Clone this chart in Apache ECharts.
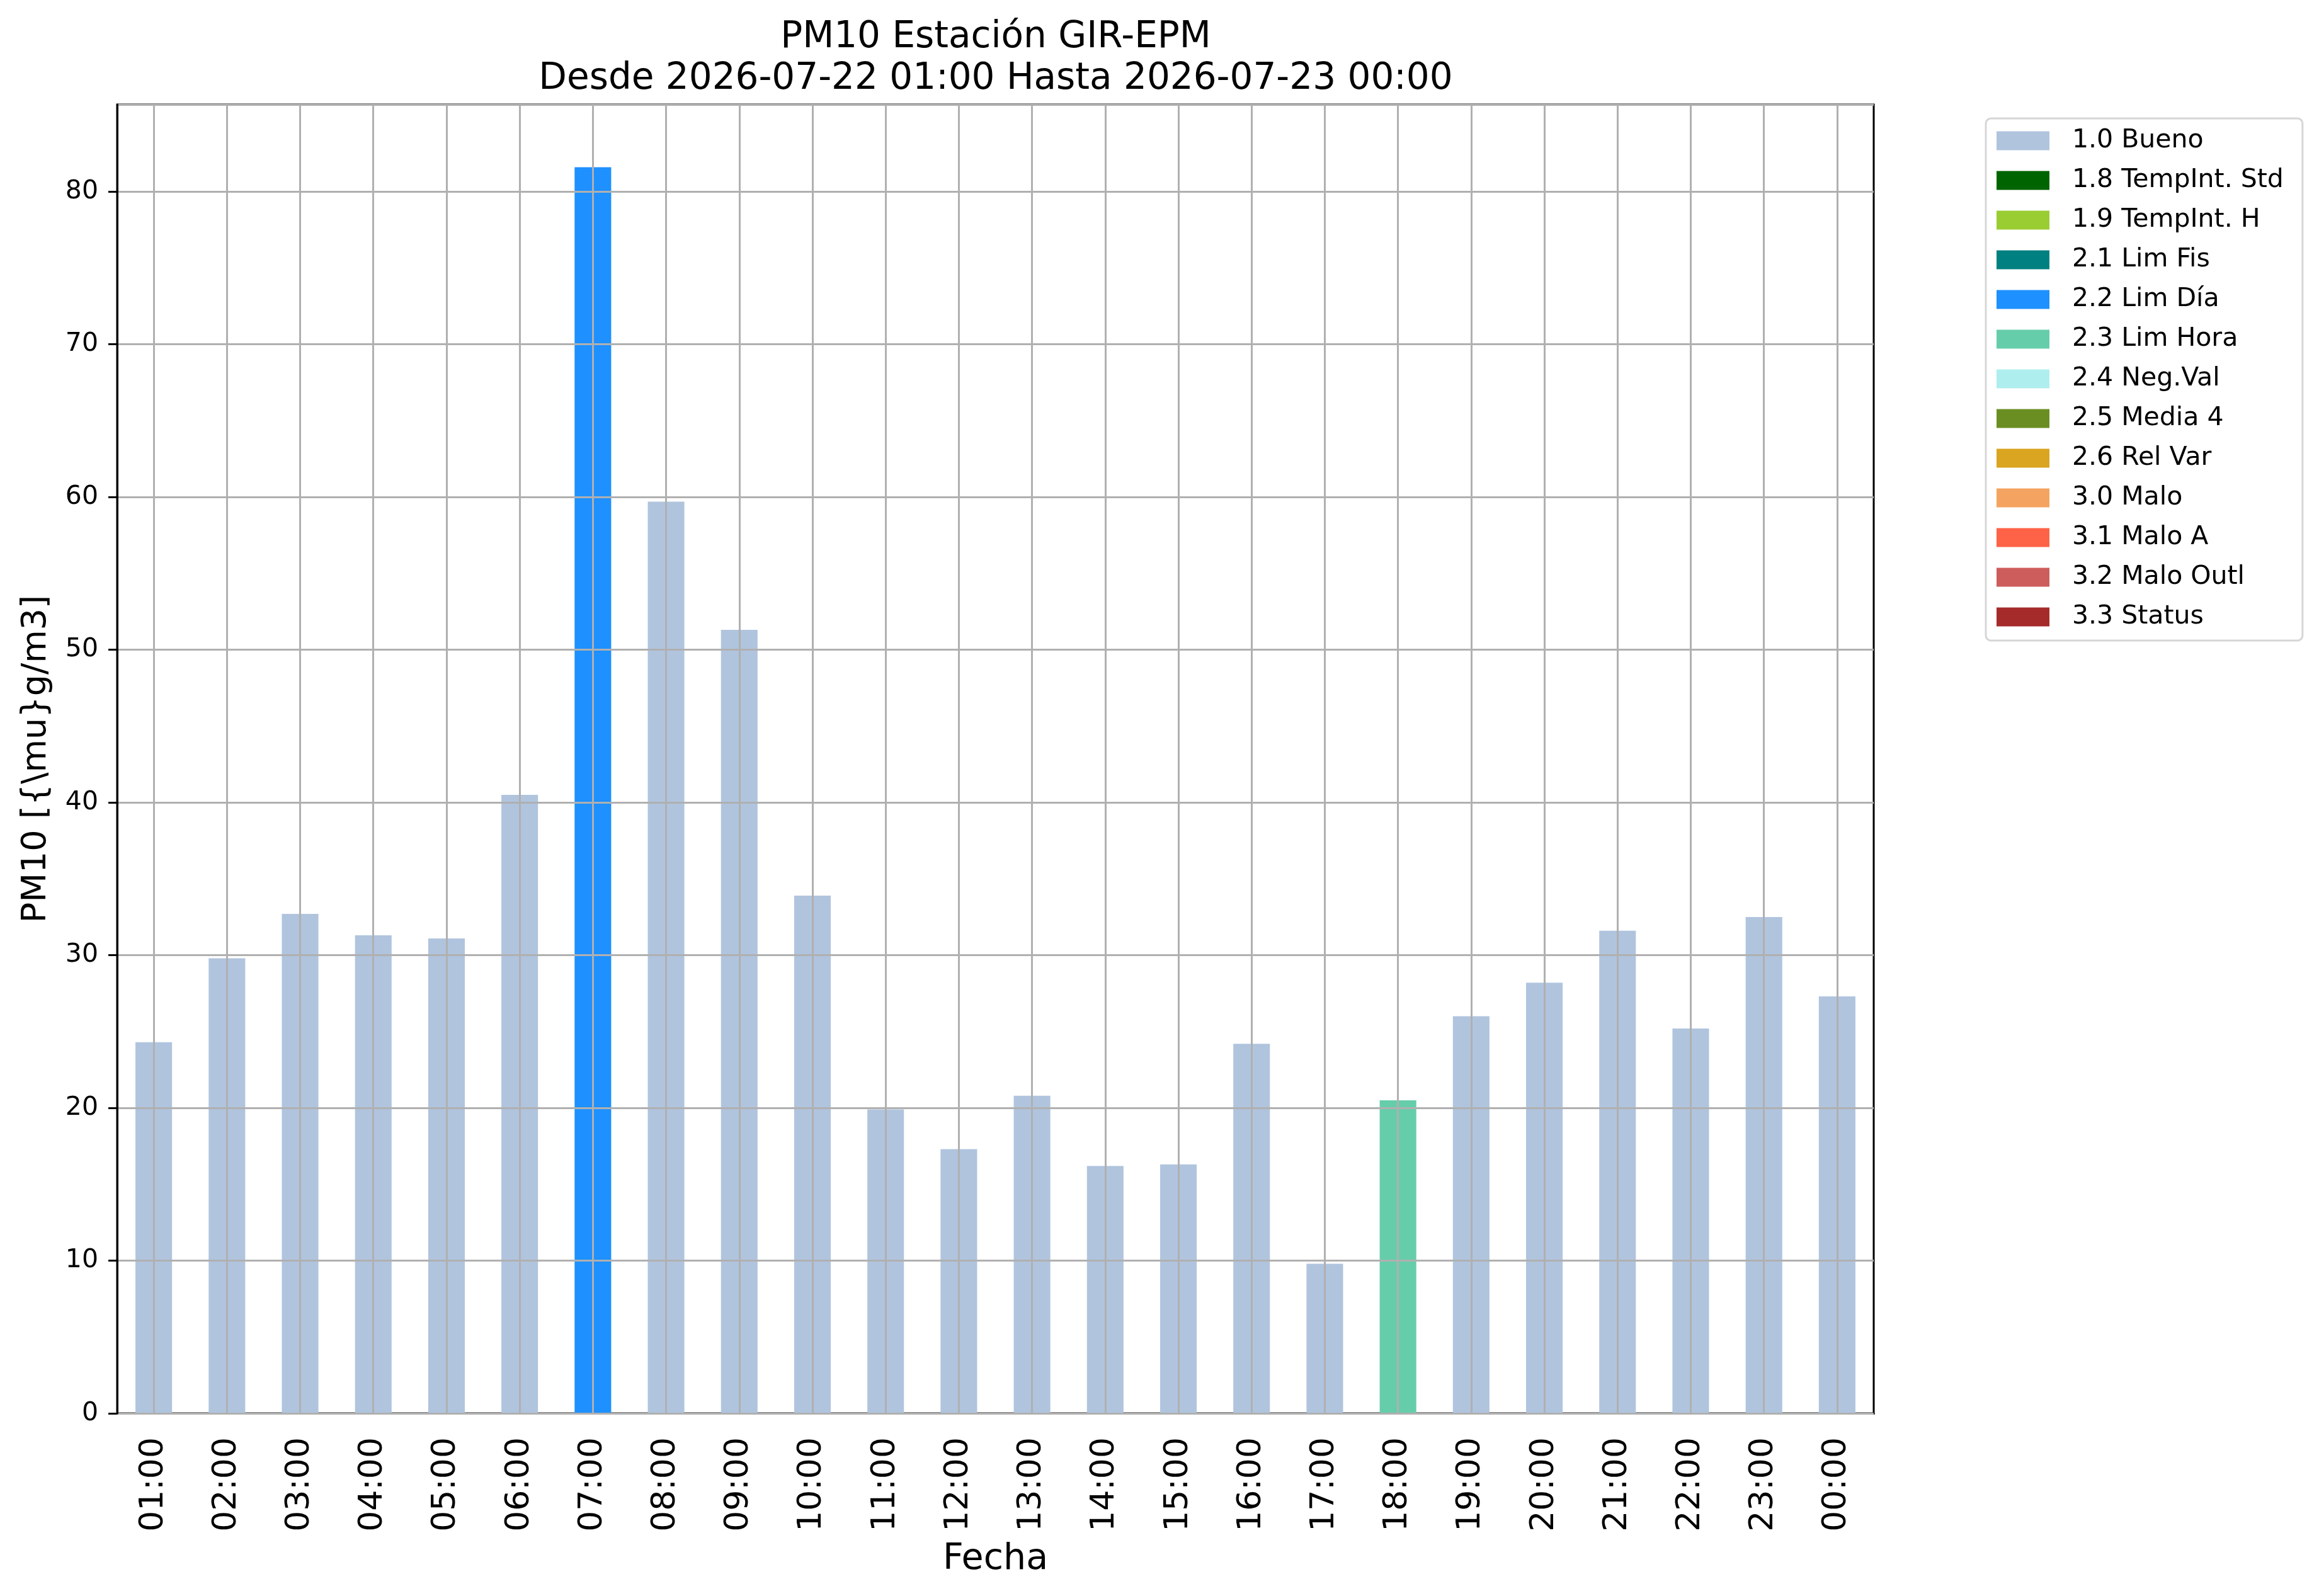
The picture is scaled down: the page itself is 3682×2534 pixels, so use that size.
<!DOCTYPE html>
<html>
<head>
<meta charset="utf-8">
<script src="https://cdn.jsdelivr.net/npm/echarts@6/dist/echarts.min.js"></script>
<style>
  html, body { margin: 0; padding: 0; background: #fff; }
  #grafico { width: 3682px; height: 2534px; }
</style>
</head>
<body>
<div id="grafico"></div>
<script>
// Horas del día (eje x)
const horas = ["01:00", "02:00", "03:00", "04:00", "05:00", "06:00", "07:00", "08:00",
    "09:00", "10:00", "11:00", "12:00", "13:00", "14:00", "15:00", "16:00",
    "17:00", "18:00", "19:00", "20:00", "21:00", "22:00", "23:00", "00:00"];

// Concentración PM10 por hora
const pm10 = [24.3, 29.8, 32.7, 31.3, 31.1, 40.5, 81.6, 59.7, 51.3, 33.9, 19.9, 17.3,
    20.8, 16.2, 16.3, 24.2, 9.8, 20.5, 26.0, 28.2, 31.6, 25.2, 32.5, 27.3];

// Bandera de calidad de cada hora
const banderas = ["1.0 Bueno", "1.0 Bueno", "1.0 Bueno", "1.0 Bueno", "1.0 Bueno", "1.0 Bueno",
    "2.2 Lim Día", "1.0 Bueno", "1.0 Bueno", "1.0 Bueno", "1.0 Bueno", "1.0 Bueno",
    "1.0 Bueno", "1.0 Bueno", "1.0 Bueno", "1.0 Bueno", "1.0 Bueno", "2.3 Lim Hora",
    "1.0 Bueno", "1.0 Bueno", "1.0 Bueno", "1.0 Bueno", "1.0 Bueno", "1.0 Bueno"];

// Categorías de la leyenda y sus colores
const categorias = ["1.0 Bueno", "1.8 TempInt. Std", "1.9 TempInt. H", "2.1 Lim Fis",
    "2.2 Lim Día", "2.3 Lim Hora", "2.4 Neg.Val", "2.5 Media 4", "2.6 Rel Var",
    "3.0 Malo", "3.1 Malo A", "3.2 Malo Outl", "3.3 Status"];
const colores = ["#b0c4de", "#006400", "#9acd32", "#008080", "#1e90ff", "#66cdaa",
    "#afeeee", "#6b8e23", "#daa520", "#f4a460", "#ff6347", "#cd5c5c", "#a52a2a"];

const FUENTE = "DejaVu Sans";

document.addEventListener("DOMContentLoaded", () => {
    const chart = echarts.init(document.getElementById("grafico"), null, { renderer: "canvas" });

    // eje auxiliar para poner las lineas verticales de la grilla en el centro de cada hora
    const medias = [];
    for (let i = 0; i <= horas.length * 2; i++) medias.push(String(i));

    const series = categorias.map((nombre, k) => ({
        name: nombre,
        type: "bar",
        stack: "pm10",
        barWidth: "50%",
        itemStyle: { color: colores[k] },
        data: pm10.map((v, i) => (banderas[i] === nombre ? v : "-"))
    }));

    chart.setOption({
        animation: false,
        backgroundColor: "#fff",
        textStyle: { fontFamily: FUENTE },
        title: {
            text: "PM10 Estación GIR-EPM\nDesde 2026-07-22 01:00 Hasta 2026-07-23 00:00",
            left: 1581,
            top: 27,
            padding: 0,
            textAlign: "center",
            textStyle: { fontFamily: FUENTE, fontSize: 58, fontWeight: "normal", color: "#000", lineHeight: 66 }
        },
        legend: {
            orient: "vertical",
            left: 3153,
            top: 188,
            padding: [15, 30, 17, 17],
            itemWidth: 84,
            itemHeight: 30,
            itemGap: 22,
            icon: "rect",
            selectedMode: false,
            borderColor: "#d6d6d6",
            borderWidth: 3,
            borderRadius: 8,
            backgroundColor: "#fff",
            textStyle: { fontFamily: FUENTE, fontSize: 41, lineHeight: 41, color: "#000", padding: [0, 0, 0, 31] },
            data: categorias
        },
        grid: {
            left: 186, right: 707, top: 166, bottom: 290,
            show: true, borderColor: "#000", borderWidth: 3, containLabel: false
        },
        xAxis: [{
            type: "category",
            data: horas,
            boundaryGap: true,
            name: "Fecha",
            nameLocation: "middle",
            nameGap: 204,
            nameTextStyle: { fontFamily: FUENTE, fontSize: 57, color: "#000" },
            axisLine: { lineStyle: { color: "#000", width: 3 } },
            axisTick: { alignWithLabel: true, length: 14, lineStyle: { color: "#000", width: 3 } },
            axisLabel: { rotate: 90, margin: 38, fontFamily: FUENTE, fontSize: 52, color: "#000" },
            splitLine: { show: false }
        }, {
            type: "category",
            data: medias,
            boundaryGap: false,
            position: "bottom",
            z: 4,
            axisLine: { show: false },
            axisTick: { show: false },
            axisLabel: { show: false },
            splitLine: {
                show: true,
                interval: (idx) => idx % 2 === 1,
                lineStyle: { color: "#b0b0b0", width: 3 }
            }
        }],
        yAxis: {
            type: "value",
            min: 0,
            max: 85.7,
            interval: 10,
            z: 4,
            name: "PM10 [{\\mu}g/m3]",
            nameLocation: "middle",
            nameGap: 101,
            nameRotate: 90,
            nameTextStyle: { fontFamily: FUENTE, fontSize: 54, color: "#000" },
            axisLine: { show: true, lineStyle: { color: "#000", width: 3 } },
            axisTick: { show: true, length: 14, lineStyle: { color: "#000", width: 3 } },
            axisLabel: { showMaxLabel: false, margin: 30, fontFamily: FUENTE, fontSize: 41, color: "#000" },
            splitLine: { show: true, lineStyle: { color: "#b0b0b0", width: 3 } }
        },
        series: series
    });
});
</script>
</body>
</html>
